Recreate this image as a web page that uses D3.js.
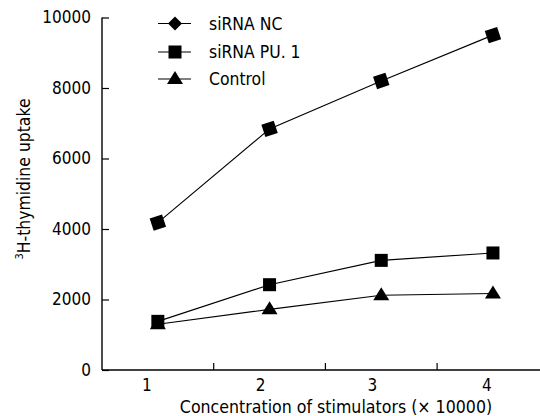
<!DOCTYPE html>
<html><head><meta charset="utf-8">
<script src="https://cdn.jsdelivr.net/npm/d3@7"></script>
<style>body{margin:0;background:#fff}svg{display:block}text{font-family:"DejaVu Sans Condensed","DejaVu Sans",sans-serif;fill:#000}</style>
</head><body><svg id="c" width="540" height="416"></svg>
<script>
const categories = ["1","2","3","4"];
const yTicks = [0,2000,4000,6000,8000,10000];
const seriesNames = ["siRNA NC","siRNA PU. 1","Control"];
const siRNA_NC = [4180, 6840, 8200, 9500];
const siRNA_PU1 = [1380, 2420, 3110, 3320];
const control = [1300, 1720, 2120, 2170];
const xTitle = "Concentration of stimulators (\u00d7 10000)";

const svg = d3.select("#c");
const x = d3.scaleBand().domain(categories).range([102, 548.8]);
const y = d3.scaleLinear().domain([0,10000]).range([370, 17.5]);
const fs = 17;

// axes
const gy = svg.append("g").attr("transform","translate(102,0)")
  .call(d3.axisLeft(y).tickValues(yTicks).tickSize(-7).tickPadding(11).tickFormat(d3.format("d")));
gy.select(".domain").attr("d","M0,17.5V370");
const gx = svg.append("g").attr("transform","translate(0,370)")
  .call(d3.axisBottom(x).tickSize(0).tickPadding(9));
gx.select(".domain").attr("d","M102,0H540");
gx.selectAll(".tick text").attr("dx",(d,i)=>[-11,-9,-9,-6][i]);
// boundary ticks between categories
gx.selectAll(".btick").data(categories.slice(1)).enter().append("line")
  .attr("x1",d=>x(d)).attr("x2",d=>x(d)).attr("y1",0).attr("y2",-7).attr("stroke","#000").attr("stroke-width",1.2);
svg.selectAll(".domain").attr("stroke","#000").attr("stroke-width",1.4);
svg.selectAll(".tick line").attr("stroke","#000").attr("stroke-width",1.2);
svg.selectAll(".tick text").attr("font-size",fs).attr("font-family","DejaVu Sans Condensed, DejaVu Sans, sans-serif").attr("fill","#000");

// titles
svg.append("text").attr("x",336).attr("y",413).attr("text-anchor","middle").attr("font-size",17.6).text(xTitle);
const yt = svg.append("text").attr("transform","translate(30,179) rotate(-90)").attr("text-anchor","middle").attr("font-size",17.4);
yt.append("tspan").attr("font-size",11).attr("dy",-7).text("3");
yt.append("tspan").attr("dy",7).text("H-thymidine uptake");

const cx = d => x(d) + x.bandwidth()/2;
const line = d3.line().x((v,i)=>cx(categories[i])).y(v=>y(v));
const data = [siRNA_NC, siRNA_PU1, control];
const shapes = ["diamond","square","triangle"];

function marker(g, shape){
  if(shape==="square") g.append("rect").attr("x",-6.5).attr("y",-6.5).attr("width",13).attr("height",13).attr("fill","#000");
  else if(shape==="diamond")
    g.append("rect").attr("x",-6.5).attr("y",-6.5).attr("width",13).attr("height",13).attr("transform","rotate(-18)").attr("fill","#000");
  else g.append("path").attr("d","M0,-8L8,5L-8,5Z").attr("fill","#000");
}

data.forEach((s,k)=>{
  svg.append("path").attr("d",line(s)).attr("fill","none").attr("stroke","#000").attr("stroke-width",1.1);
  s.forEach((v,i)=>{
    const g = svg.append("g").attr("transform",`translate(${cx(categories[i])},${y(v)})`);
    marker(g, shapes[k]);
  });
});

// legend
const ly = [23.5, 52, 79];
seriesNames.forEach((n,k)=>{
  svg.append("line").attr("x1",158).attr("x2",191).attr("y1",ly[k]).attr("y2",ly[k]).attr("stroke","#000").attr("stroke-width",1.1);
  const g = svg.append("g").attr("transform",`translate(175,${ly[k]})`);
  if(k===0) g.append("path").attr("d","M0,-7L7,0L0,7L-7,0Z").attr("fill","#000");
  else marker(g, shapes[k]);
  svg.append("text").attr("x",209).attr("y",ly[k]).attr("dy","0.36em").attr("font-size",17.4).text(n);
});
</script></body></html>
